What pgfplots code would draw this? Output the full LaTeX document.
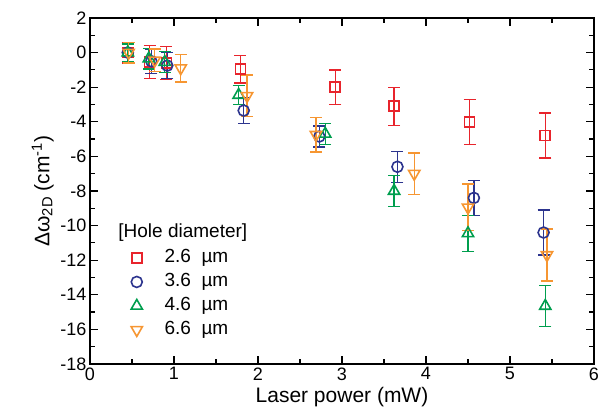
\documentclass[border=0pt]{standalone}
\usepackage{pgfplots}
\pgfplotsset{compat=1.18}
\usepackage{fontspec}
\setmainfont{Liberation Sans}
\definecolor{cred}{RGB}{232,36,44}
\definecolor{cblue}{RGB}{44,52,142}
\definecolor{cgreen}{RGB}{0,158,78}
\definecolor{corange}{RGB}{246,150,50}

\pgfplotstableread{
x y e
0.45 0.0 0.6
0.71 -0.55 0.95
0.91 -0.6 0.95
1.79 -0.95 0.8
2.92 -2.0 1.0
3.62 -3.1 1.1
4.52 -4.0 1.3
5.42 -4.8 1.3
}\redtab
\pgfplotstableread{
x y e
0.45 0.0 0.5
0.73 -0.5 0.7
0.92 -0.75 0.75
1.83 -3.35 0.75
2.73 -4.85 0.6
3.66 -6.6 0.9
4.57 -8.4 1.0
5.40 -10.4 1.3
}\bluetab
\pgfplotstableread{
x y e
0.45 0.0 0.5
0.70 -0.35 0.6
0.89 -0.55 0.6
1.77 -2.45 0.55
2.80 -4.7 0.6
3.62 -8.0 0.9
4.50 -10.45 1.05
5.42 -14.65 1.2
}\greentab
\pgfplotstableread{
x y e
0.46 0.0 0.6
0.77 -0.45 0.65
1.08 -0.9 0.8
1.87 -2.5 1.2
2.69 -4.75 1.0
3.86 -7.0 1.2
4.50 -8.95 1.35
5.44 -11.7 1.5
}\orangetab

\begin{document}
\begin{tikzpicture}
\begin{axis}[
  set layers, mark layer=axis foreground,
  scale only axis, width=504bp, height=346bp,
  xmin=0, xmax=6, ymin=-18, ymax=2,
  xtick={0,1,...,6}, ytick={-18,-16,...,2},
  minor x tick num=1, minor y tick num=1,
  tick align=inside, tick pos=both,
  major tick length=8bp, minor tick length=5bp,
  axis line style={line width=1.4bp},
  every tick/.style={line width=1.2bp, black},
  tick label style={font=\fontsize{18bp}{20bp}\selectfont},
  /pgf/number format/assume math mode=true,
  xlabel={Laser power (mW)},
  ylabel={Δω\textsubscript{2D} (cm\textsuperscript{-1})},
  label style={font=\fontsize{21bp}{24bp}\selectfont},
  every axis plot/.append style={only marks, line width=1.6bp},
  error bars/y dir=both, error bars/y explicit,
  error bars/error bar style={line width=1.3bp, solid},
  error bars/error mark options={rotate=90, mark size=6bp, line width=1.3bp, solid},
  legend image code/.code={\path (0bp,0bp) (35bp,0bp); \draw[mark repeat=2, mark phase=2, #1] plot coordinates {(0bp,0bp) (10bp,0bp) (35bp,0bp)};},
  legend style={at={(rel axis cs:0.071,0.336)}, anchor=north west, draw=none, fill=none,
    inner sep=0pt, row sep=4bp,
    font=\fontsize{19bp}{22bp}\selectfont,
    nodes={inner ysep=1bp, inner xsep=2bp, text height=14bp, text depth=4bp}},
  legend cell align=left,
]
\addplot[color=cred, mark=square, mark size=5bp, mark options={fill=white}]
  table[x=x, y=y, y error=e] {\redtab};
\addlegendentry{2.6~~µm}
\addplot[color=cblue, mark=o, mark size=5.5bp, mark options={fill=white}]
  table[x=x, y=y, y error=e] {\bluetab};
\addlegendentry{3.6~~µm}
\addplot[color=cgreen, mark=triangle, mark size=6.5bp, mark options={fill=white}]
  table[x=x, y=y, y error=e] {\greentab};
\addlegendentry{4.6~~µm}
\addplot[color=corange, mark=triangle, mark size=6.5bp, mark options={fill=white, rotate=180}]
  table[x=x, y=y, y error=e] {\orangetab};
\addlegendentry{6.6~~µm}
\node[anchor=west, font=\fontsize{19bp}{22bp}\selectfont, inner sep=0pt] at (rel axis cs:0.056,0.379) {[Hole diameter]};
\end{axis}
\path (current axis.south west) ++(-90bp,-54bp) rectangle ++(606bp,418bp);
\end{tikzpicture}
\end{document}
